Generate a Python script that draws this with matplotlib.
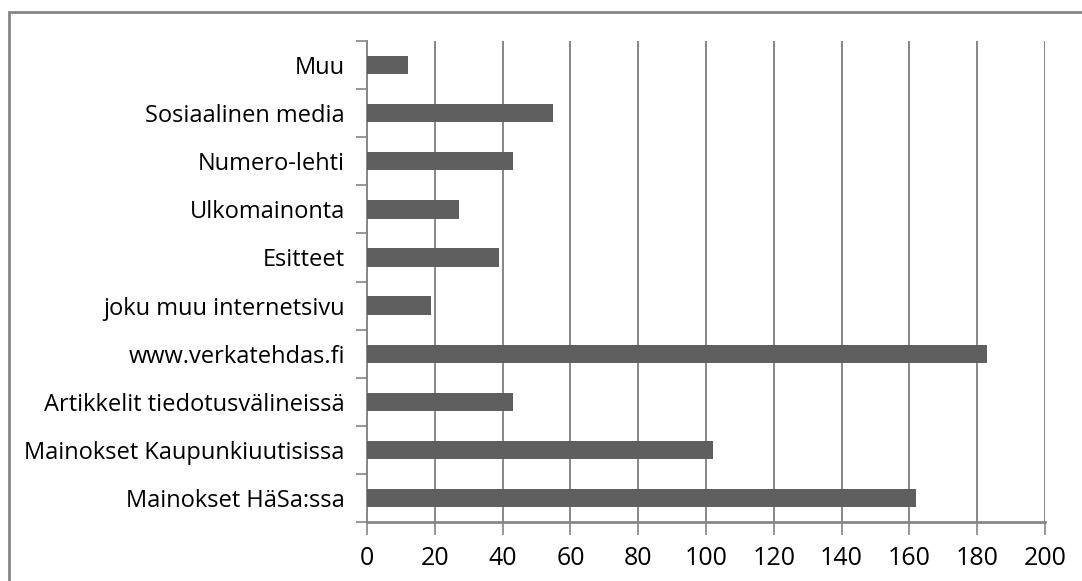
import matplotlib
matplotlib.use("Agg")
import matplotlib.pyplot as plt
from matplotlib.patches import Rectangle
import numpy as np

categories = [
    "Mainokset HäSa:ssa",
    "Mainokset Kaupunkiuutisissa",
    "Artikkelit tiedotusvälineissä",
    "www.verkatehdas.fi",
    "joku muu internetsivu",
    "Esitteet",
    "Ulkomainonta",
    "Numero-lehti",
    "Sosiaalinen media",
    "Muu",
]
values = [162, 102, 43, 183, 19, 39, 27, 43, 55, 12]
x_ticks = [0, 20, 40, 60, 80, 100, 120, 140, 160, 180, 200]

grid_col = "#868686"
bar_col = "#5f5f5f"

plt.rcParams["font.family"] = ["Open Sans", "DejaVu Sans"]

fig = plt.figure(figsize=(10.82, 5.81), dpi=100)
ax = fig.add_axes([0.3392, 0.1015, 0.6266, 0.8279])

# outer chart frame (left and top edges visible)
fig.patches.append(Rectangle((9 / 1082, -0.1), 1.2, 1 - 12.5 / 581 + 0.1,
                             transform=fig.transFigure, fill=False,
                             edgecolor=grid_col, linewidth=2))

pos = np.arange(len(categories))
ax.barh(pos, values, height=0.38, color=bar_col, zorder=3)

ax.set_xlim(0, 200)
ax.set_ylim(-0.5, len(categories) - 0.5)
ax.set_xticks(x_ticks)
ax.set_xticklabels([str(t) for t in x_ticks], fontsize=18, color="#000000")
ax.set_yticks(pos)
ax.set_yticklabels(categories, fontsize=17, color="#000000")
ax.set_yticks(np.arange(-0.5, len(categories), 1.0), minor=True)

ax.tick_params(axis="y", which="major", length=0, pad=16)
ax.tick_params(axis="y", which="minor", length=8, width=1.2, color=grid_col, direction="out")
ax.tick_params(axis="x", which="major", length=9, width=1.2, color=grid_col,
               direction="out", pad=8)

for x in x_ticks[1:]:
    ax.axvline(x, color=grid_col, linewidth=1.4, zorder=1)

for s in ("top", "right"):
    ax.spines[s].set_visible(False)
ax.spines["left"].set_color(grid_col)
ax.spines["left"].set_linewidth(1.4)
ax.spines["bottom"].set_color(grid_col)
ax.spines["bottom"].set_linewidth(2)

fig.savefig("out.png", dpi=100)
